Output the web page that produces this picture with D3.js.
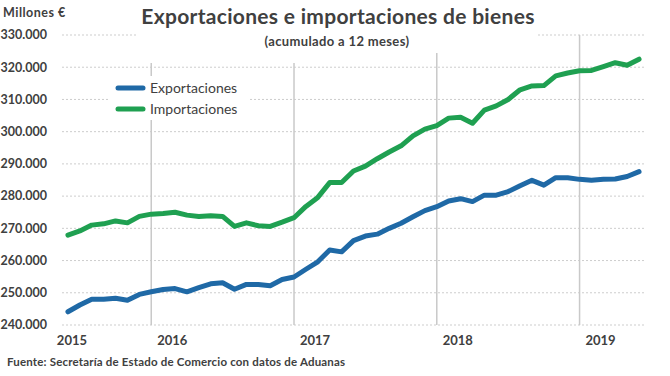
<!DOCTYPE html>
<html>
<head>
<meta charset="utf-8">
<script src="https://cdn.jsdelivr.net/npm/d3@7"></script>
<style>
  body { margin: 0; background: #fff; }
  svg { display: block; font-family: Lato, "Open Sans", sans-serif; }
</style>
</head>
<body>
<svg id="chart" width="670" height="376"></svg>
<script>
// meses, de junio 2015 a junio 2019
const months = [
    '2015-06','2015-07','2015-08','2015-09','2015-10','2015-11','2015-12',
    '2016-01','2016-02','2016-03','2016-04','2016-05','2016-06','2016-07','2016-08','2016-09','2016-10','2016-11','2016-12',
    '2017-01','2017-02','2017-03','2017-04','2017-05','2017-06','2017-07','2017-08','2017-09','2017-10','2017-11','2017-12',
    '2018-01','2018-02','2018-03','2018-04','2018-05','2018-06','2018-07','2018-08','2018-09','2018-10','2018-11','2018-12',
    '2019-01','2019-02','2019-03','2019-04','2019-05','2019-06'
];

// millones de euros, acumulado 12 meses
const exportaciones = [
    244100, 246200, 248000, 248000, 248300, 247700, 249500, 250300, 251000, 251300,
    250300, 251600, 252800, 253100, 251100, 252600, 252600, 252200, 254100, 254900,
    257300, 259600, 263300, 262700, 266200, 267600, 268200, 270000, 271600, 273600,
    275500, 276700, 278500, 279200, 278300, 280300, 280300, 281400, 283200, 284900,
    283400, 285700, 285700, 285200, 284900, 285200, 285300, 286100, 287600
];

const importaciones = [
    267900, 269200, 271000, 271400, 272300, 271700, 273700, 274400, 274600, 275000,
    274100, 273700, 273900, 273700, 270600, 271700, 270800, 270600, 271900, 273300,
    276800, 279600, 284200, 284200, 287800, 289300, 291600, 293700, 295600, 298700,
    300800, 301900, 304200, 304500, 302600, 306700, 308000, 310000, 313000, 314200,
    314300, 317300, 318200, 318900, 319000, 320200, 321400, 320600, 322500
];

const yTicks = [240000, 250000, 260000, 270000, 280000, 290000, 300000, 310000, 320000, 330000];
const yearLabels = ['2015', '2016', '2017', '2018', '2019'];
const seriesNames = ['Exportaciones', 'Importaciones'];

const colors = { Exportaciones: '#1f69a6', Importaciones: '#1fa051' };
const textColor = '#404040';

const svg = d3.select('#chart');
const plot = { left: 62, right: 645, top: 35, bottom: 325 };

const x = d3.scalePoint()
    .domain(months)
    .range([plot.left, plot.right])
    .padding(0.5);

const y = d3.scaleLinear()
    .domain([240000, 330000])
    .range([plot.bottom, plot.top]);

const es = d3.formatLocale({ decimal: ',', thousands: '.', grouping: [3], currency: ['', ' €'] });
const fmt = es.format(',');

// horizontal gridlines (dotted)
svg.append('g')
    .selectAll('line')
    .data(yTicks)
    .enter()
    .append('line')
    .attr('x1', plot.left)
    .attr('x2', plot.right)
    .attr('y1', d => y(d))
    .attr('y2', d => y(d))
    .attr('stroke', '#cdcdcd')
    .attr('stroke-width', 1)
    .attr('stroke-dasharray', '2,2');

// vertical lines at each january
const januaries = months.filter(m => m.endsWith('-01'));
svg.append('g')
    .selectAll('line')
    .data(januaries)
    .enter()
    .append('line')
    .attr('x1', d => x(d))
    .attr('x2', d => x(d))
    .attr('y1', plot.top)
    .attr('y2', plot.bottom)
    .attr('stroke', '#c9c9c9')
    .attr('stroke-width', 1.5);

// y axis labels
svg.append('g')
    .selectAll('text')
    .data(yTicks)
    .enter()
    .append('text')
    .attr('x', 47)
    .attr('y', d => y(d))
    .attr('dy', '0.35em')
    .attr('text-anchor', 'end')
    .attr('font-size', '12.5px')
    .attr('font-weight', 'bold')
    .attr('fill', textColor)
    .text(d => fmt(d));

svg.append('text')
    .attr('x', 3)
    .attr('y', 17)
    .attr('font-size', '12.5px')
    .attr('font-weight', 'bold')
    .attr('letter-spacing', '0.5px')
    .attr('fill', textColor)
    .text('Millones €');

// x axis year labels: first one under the first point, the rest just after january
svg.append('g')
    .selectAll('text')
    .data(yearLabels)
    .enter()
    .append('text')
    .attr('x', (d, i) => i === 0 ? x(months[0]) + 4 : x(d + '-01') + 21)
    .attr('y', 345)
    .attr('text-anchor', 'middle')
    .attr('font-size', '13px')
    .attr('font-weight', 'bold')
    .attr('fill', textColor)
    .text(d => d);

// title boxes (white background hides the grid like the original text boxes)
svg.append('rect').attr('x', 137).attr('y', 28).attr('width', 400).attr('height', 25).attr('fill', '#fff');
svg.append('rect').attr('x', 137).attr('y', 53).attr('width', 293).attr('height', 10).attr('fill', '#fff');

svg.append('text')
    .attr('x', 338)
    .attr('y', 24)
    .attr('text-anchor', 'middle')
    .attr('font-size', '21px')
    .attr('font-weight', 'bold')
    .attr('letter-spacing', '0.3px')
    .attr('fill', textColor)
    .text('Exportaciones e importaciones de bienes');

svg.append('text')
    .attr('x', 337)
    .attr('y', 46)
    .attr('text-anchor', 'middle')
    .attr('font-size', '13px')
    .attr('font-weight', 'bold')
    .attr('letter-spacing', '0.35px')
    .attr('fill', textColor)
    .text('(acumulado a 12 meses)');

// legend
svg.append('rect').attr('x', 108).attr('y', 76).attr('width', 140).attr('height', 44).attr('fill', '#fff');

const legendItems = svg.append('g')
    .selectAll('g')
    .data(seriesNames)
    .enter()
    .append('g')
    .attr('transform', (d, i) => `translate(0, ${88 + i * 21})`);

legendItems.append('line')
    .attr('x1', 118)
    .attr('x2', 143)
    .attr('stroke', d => colors[d])
    .attr('stroke-width', 5)
    .attr('stroke-linecap', 'round');

legendItems.append('text')
    .attr('x', 150)
    .attr('dy', '0.35em')
    .attr('font-size', '14px')
    .attr('fill', textColor)
    .text(d => d);

// series
const line = d3.line()
    .x((d, i) => x(months[i]))
    .y(d => y(d));

const series = [
    { name: 'Exportaciones', values: exportaciones },
    { name: 'Importaciones', values: importaciones }
];

svg.append('g')
    .selectAll('path')
    .data(series)
    .enter()
    .append('path')
    .attr('d', d => line(d.values))
    .attr('fill', 'none')
    .attr('stroke', d => colors[d.name])
    .attr('stroke-width', 5)
    .attr('stroke-linejoin', 'round')
    .attr('stroke-linecap', 'round');

// source
svg.append('text')
    .attr('x', 7)
    .attr('y', 366)
    .attr('font-size', '11.5px')
    .attr('font-weight', 'bold')
    .attr('letter-spacing', '0.18px')
    .attr('fill', textColor)
    .text('Fuente: Secretaría de Estado de Comercio con datos de Aduanas');
</script>
</body>
</html>
